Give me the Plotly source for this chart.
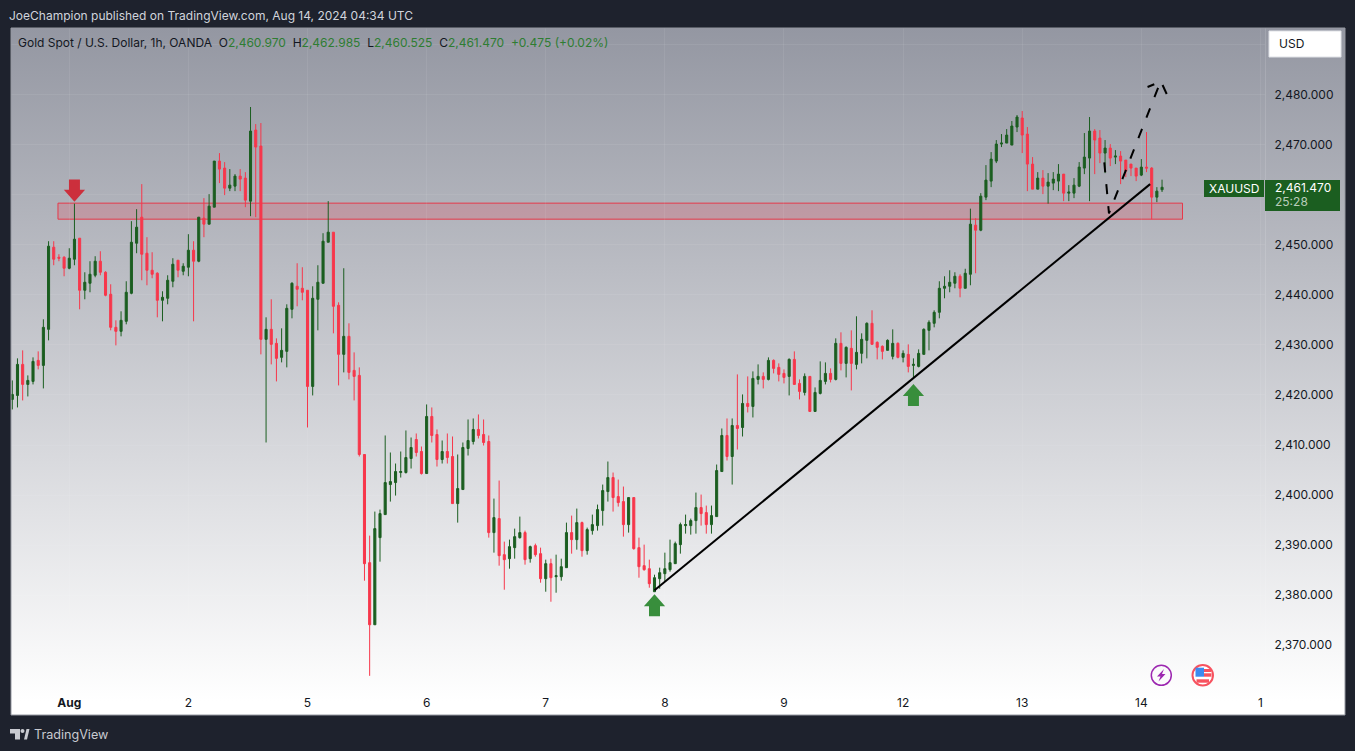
import base64
import plotly.graph_objects as go

# hourly XAUUSD bars
opens = [2419.1, 2419.9, 2426.1, 2422.1, 2422.7, 2426.9, 2425.9, 2433.1, 2449.5, 2447.5,
         2447.5, 2445.3, 2447.1, 2451.3, 2440.9, 2442.3, 2443.9, 2446.7, 2444.5, 2440.1,
         2433.5, 2432.7, 2434.7, 2440.3, 2450.3, 2455.5, 2448.3, 2444.9, 2444.3, 2438.9,
         2439.3, 2442.7, 2446.9, 2444.7, 2445.5, 2448.9, 2446.7, 2455.3, 2454.1, 2457.5,
         2466.7, 2465.3, 2461.3, 2461.7, 2463.7, 2463.3, 2458.7, 2472.9, 2469.7, 2431.1,
         2433.1, 2430.3, 2427.5, 2428.7, 2437.1, 2441.7, 2441.3, 2440.9, 2421.7, 2439.1,
         2442.3, 2450.5, 2452.5, 2437.9, 2428.1, 2431.7, 2424.9, 2423.9, 2408.1, 2386.5,
         2374.1, 2391.5, 2396.1, 2402.1, 2402.5, 2404.5, 2404.5, 2407.3, 2411.1, 2408.7,
         2404.3, 2415.7, 2412.1, 2407.1, 2408.7, 2407.7, 2398.3, 2401.1, 2409.3, 2410.7,
         2413.1, 2412.1, 2410.7, 2392.5, 2395.3, 2388.1, 2387.3, 2389.5, 2391.5, 2392.5,
         2387.3, 2389.9, 2388.3, 2383.3, 2386.3, 2383.7, 2383.7, 2385.5, 2392.5, 2391.1,
         2394.5, 2388.9, 2392.9, 2393.9, 2396.9, 2400.7, 2403.5, 2399.7, 2398.7, 2394.1,
         2399.5, 2389.5, 2385.9, 2385.3, 2380.7, 2383.3, 2384.3, 2385.1, 2386.3, 2390.1,
         2393.9, 2393.9, 2394.9, 2397.5, 2396.5, 2394.1, 2395.7, 2404.7, 2411.9, 2407.7,
         2413.9, 2413.5, 2418.3, 2417.7, 2423.1, 2423.7, 2423.1, 2426.9, 2425.5, 2424.3,
         2423.7, 2427.1, 2422.3, 2420.5, 2423.7, 2416.7, 2420.3, 2422.7, 2424.3, 2423.1,
         2430.3, 2426.3, 2429.3, 2426.1, 2428.3, 2430.9, 2434.3, 2430.5, 2429.7, 2428.9,
         2427.7, 2430.3, 2427.5, 2428.1, 2425.9, 2425.7, 2428.1, 2432.9, 2434.3, 2436.5,
         2441.3, 2441.7, 2442.3, 2443.7, 2441.3, 2444.1, 2453.9, 2452.9, 2459.5, 2462.7,
         2466.7, 2470.1, 2470.3, 2469.9, 2473.5, 2475.3, 2472.1, 2466.1, 2461.1, 2463.3,
         2461.7, 2462.3, 2462.7, 2464.1, 2460.3, 2460.3, 2461.7, 2465.3, 2467.3, 2472.7,
         2471.3, 2468.3, 2469.3, 2467.5, 2467.7, 2466.9, 2466.1, 2465.3, 2463.9, 2465.5,
         2465.3, 2459.5, 2460.97]
highs = [2422.9, 2427.3, 2428.9, 2423.9, 2427.5, 2428.7, 2435.1, 2450.7, 2450.7, 2448.1,
         2447.7, 2449.3, 2458.2, 2451.3, 2444.5, 2446.7, 2447.7, 2448.7, 2444.7, 2442.1,
         2434.9, 2436.7, 2442.7, 2454.7, 2457.1, 2462.1, 2451.5, 2448.5, 2444.5, 2440.7,
         2443.9, 2447.3, 2446.9, 2446.3, 2452.1, 2450.7, 2455.5, 2459.3, 2460.1, 2466.7,
         2468.3, 2466.5, 2465.1, 2464.1, 2465.1, 2464.5, 2477.5, 2474.1, 2474.3, 2435.5,
         2439.1, 2431.3, 2433.3, 2438.1, 2442.5, 2446.3, 2445.5, 2440.9, 2441.7, 2445.9,
         2452.3, 2458.7, 2452.5, 2438.5, 2445.3, 2434.3, 2428.5, 2425.5, 2408.1, 2391.9,
         2396.7, 2397.1, 2411.9, 2408.5, 2406.3, 2408.7, 2412.9, 2411.5, 2412.3, 2409.7,
         2418.1, 2417.5, 2413.1, 2410.9, 2412.3, 2411.7, 2408.1, 2410.5, 2415.1, 2415.3,
         2416.1, 2415.1, 2411.9, 2399.3, 2402.9, 2390.7, 2391.1, 2393.3, 2395.7, 2392.9,
         2389.9, 2390.3, 2389.5, 2387.1, 2387.3, 2388.1, 2387.3, 2394.5, 2395.9, 2397.3,
         2394.7, 2393.5, 2396.1, 2398.1, 2402.1, 2406.7, 2404.5, 2403.1, 2401.7, 2399.5,
         2399.5, 2391.5, 2390.1, 2387.1, 2384.1, 2385.5, 2388.5, 2391.1, 2390.7, 2394.5,
         2396.1, 2395.3, 2400.5, 2400.1, 2397.9, 2397.9, 2406.1, 2413.3, 2415.3, 2415.3,
         2424.1, 2420.1, 2423.7, 2424.7, 2426.1, 2424.5, 2427.5, 2427.1, 2426.3, 2425.1,
         2427.3, 2428.7, 2423.1, 2424.3, 2423.7, 2421.5, 2426.7, 2426.5, 2425.3, 2431.3,
         2432.5, 2429.7, 2432.9, 2435.7, 2432.3, 2434.5, 2436.9, 2430.7, 2429.9, 2431.1,
         2433.1, 2430.5, 2428.9, 2430.1, 2427.3, 2429.1, 2433.3, 2434.9, 2436.9, 2442.7,
         2443.7, 2444.9, 2444.5, 2444.1, 2445.2, 2457.2, 2455.3, 2460.3, 2465.9, 2468.5,
         2470.9, 2472.1, 2473.1, 2474.7, 2475.9, 2476.7, 2473.5, 2467.5, 2464.5, 2464.9,
         2464.3, 2464.5, 2466.1, 2464.1, 2461.9, 2463.3, 2466.5, 2472.3, 2475.5, 2473.1,
         2472.9, 2470.9, 2470.1, 2468.9, 2468.7, 2466.9, 2466.1, 2465.3, 2467.1, 2472.5,
         2465.5, 2461.5, 2462.985]
lows = [2417.1, 2417.5, 2418.9, 2419.7, 2422.1, 2425.1, 2421.3, 2430.9, 2445.9, 2446.7,
        2443.7, 2445.1, 2445.9, 2437.1, 2439.1, 2440.5, 2443.5, 2443.9, 2439.7, 2432.9,
        2429.9, 2431.7, 2434.1, 2440.1, 2448.3, 2442.9, 2441.9, 2443.3, 2435.5, 2434.7,
        2438.1, 2441.5, 2443.5, 2443.9, 2443.7, 2434.7, 2446.5, 2451.5, 2454.1, 2457.5,
        2462.3, 2459.9, 2460.7, 2460.7, 2460.7, 2457.5, 2455.7, 2455.5, 2428.1, 2410.5,
        2426.1, 2422.7, 2426.5, 2425.5, 2435.3, 2437.7, 2438.9, 2413.5, 2419.9, 2432.9,
        2442.3, 2450.5, 2432.3, 2421.9, 2424.5, 2423.1, 2418.9, 2407.7, 2382.9, 2363.9,
        2374.1, 2386.7, 2396.1, 2398.7, 2399.9, 2403.5, 2404.3, 2405.3, 2407.7, 2404.1,
        2404.3, 2410.5, 2405.7, 2406.3, 2406.3, 2398.3, 2394.5, 2401.1, 2407.9, 2410.1,
        2411.3, 2409.9, 2391.5, 2388.5, 2385.9, 2381.1, 2385.3, 2387.3, 2391.3, 2386.1,
        2386.5, 2387.7, 2382.5, 2380.7, 2378.7, 2380.5, 2382.9, 2385.5, 2388.3, 2389.1,
        2387.7, 2388.1, 2392.1, 2392.9, 2393.9, 2398.7, 2396.7, 2397.7, 2391.7, 2392.5,
        2389.1, 2383.5, 2384.9, 2381.5, 2380.7, 2381.3, 2382.7, 2384.7, 2386.3, 2388.3,
        2392.3, 2392.1, 2392.3, 2393.9, 2392.3, 2392.3, 2395.7, 2404.7, 2406.9, 2402.1,
        2409.1, 2411.7, 2416.5, 2415.5, 2422.1, 2421.3, 2422.9, 2424.3, 2422.7, 2422.3,
        2419.9, 2422.1, 2419.1, 2419.9, 2416.7, 2416.7, 2420.1, 2422.1, 2422.5, 2422.9,
        2424.9, 2423.5, 2420.9, 2425.1, 2426.3, 2427.3, 2430.1, 2427.1, 2427.1, 2428.9,
        2427.1, 2427.3, 2426.5, 2424.5, 2423.3, 2425.5, 2428.1, 2428.9, 2433.5, 2435.3,
        2439.3, 2440.5, 2441.3, 2439.5, 2441.3, 2441.9, 2444.3, 2452.7, 2458.9, 2461.5,
        2466.3, 2469.5, 2470.3, 2469.9, 2472.5, 2468.3, 2460.7, 2461.1, 2461.1, 2460.1,
        2458.2, 2460.9, 2460.7, 2458.7, 2458.7, 2459.3, 2461.5, 2464.1, 2458.7, 2464.1,
        2466.3, 2464.3, 2465.7, 2466.1, 2462.1, 2463.5, 2463.7, 2462.7, 2463.7, 2464.5,
        2455.1, 2458.5, 2460.525]
closes = [2420.1, 2426.1, 2422.1, 2422.9, 2426.7, 2425.9, 2433.5, 2449.7, 2447.1, 2447.3,
          2445.3, 2447.3, 2451.1, 2440.9, 2442.5, 2444.1, 2446.7, 2444.5, 2439.9, 2433.5,
          2432.7, 2434.9, 2440.5, 2450.5, 2453.5, 2448.1, 2444.9, 2444.1, 2438.9, 2439.5,
          2442.9, 2446.1, 2444.9, 2445.7, 2448.9, 2446.7, 2455.5, 2454.1, 2457.7, 2466.7,
          2465.1, 2461.3, 2461.9, 2463.7, 2463.1, 2458.9, 2472.7, 2469.5, 2431.1, 2433.1,
          2430.1, 2427.3, 2428.9, 2437.3, 2442.3, 2441.1, 2440.5, 2421.7, 2439.3, 2442.5,
          2450.7, 2452.5, 2437.7, 2428.1, 2431.7, 2424.5, 2423.7, 2408.1, 2386.3, 2374.1,
          2393.3, 2396.3, 2402.5, 2402.7, 2404.7, 2404.7, 2407.5, 2409.5, 2408.5, 2404.3,
          2415.7, 2411.9, 2407.1, 2408.7, 2407.5, 2398.3, 2401.3, 2409.5, 2410.9, 2413.1,
          2411.9, 2410.5, 2392.5, 2395.5, 2387.9, 2387.1, 2389.7, 2391.7, 2392.5, 2387.1,
          2389.7, 2388.1, 2383.3, 2386.3, 2383.5, 2383.9, 2385.7, 2392.5, 2391.1, 2394.5,
          2388.9, 2393.1, 2394.1, 2397.1, 2400.9, 2403.5, 2399.5, 2398.5, 2394.1, 2399.5,
          2389.3, 2385.7, 2385.1, 2382.3, 2383.5, 2384.5, 2385.3, 2386.5, 2390.3, 2394.1,
          2394.1, 2394.9, 2397.5, 2396.3, 2394.1, 2395.9, 2404.9, 2411.9, 2407.7, 2413.9,
          2413.3, 2418.3, 2417.7, 2423.3, 2423.7, 2423.1, 2426.9, 2425.3, 2424.1, 2423.5,
          2427.1, 2422.1, 2420.7, 2423.7, 2416.7, 2420.5, 2422.9, 2424.3, 2423.1, 2430.3,
          2426.3, 2429.5, 2426.3, 2428.5, 2431.1, 2434.3, 2430.1, 2429.5, 2428.7, 2430.9,
          2430.3, 2427.5, 2428.3, 2425.7, 2426.1, 2428.3, 2433.1, 2434.5, 2436.5, 2441.3,
          2441.7, 2442.5, 2443.7, 2441.3, 2444.3, 2454.1, 2452.9, 2459.7, 2462.9, 2467.1,
          2470.1, 2470.3, 2471.9, 2473.7, 2475.5, 2471.9, 2466.1, 2461.1, 2463.3, 2461.7,
          2462.5, 2463.1, 2464.1, 2460.3, 2460.5, 2461.9, 2465.5, 2467.5, 2472.7, 2470.9,
          2468.3, 2469.3, 2467.3, 2467.7, 2466.7, 2464.7, 2465.3, 2463.7, 2465.5, 2465.3,
          2459.5, 2460.7, 2461.47]

day_ticks = [11, 34, 57, 80, 103, 126, 149, 172, 195, 218, 241]
day_labels = ["<b>Aug</b>", "2", "5", "6", "7", "8", "9", "12", "13", "14", "1"]
price_ticks = [2370, 2380, 2390, 2400, 2410, 2420, 2430, 2440, 2450, 2460, 2470, 2480, 2490]
# 2,460 and 2,490 sit behind the price tag and the currency button
price_labels = ["2,370.000", "2,380.000", "2,390.000", "2,400.000", "2,410.000", "2,420.000", "2,430.000",
                "2,440.000", "2,450.000", "", "2,470.000", "2,480.000", ""]

# drawings on the chart
zone_bars = [8.82, 225.95]
zone_prices = [2455.1, 2458.3]
trend_bars = [124, 219.7]
trend_prices = [2381.0, 2462.1]
path_bars = [210.85, 211.75, 221.4, None, 219.2, 220.5, None, 222.1, 222.9]
path_prices = [2466.46, 2456.27, 2481.76, None, 2481.5, 2482.04, None, 2481.9, 2480.1]

GREEN = "#1b5e20"
RED = "#f7374b"
TEXT = "#131722"
FONT = "Inter, Roboto, sans-serif"


# panel pixels to paper fractions
def px(x):
    return (x - 11) / 1334


def py(y):
    return (715 - y) / 687


def box(x0, y0, x1, y1, fill, line=None, kind="rect", width=1, layer="above"):
    return dict(type=kind, xref="paper", yref="paper", x0=px(x0), x1=px(x1), y0=py(y0), y1=py(y1),
                fillcolor=fill, line=dict(color=line or "rgba(0,0,0,0)", width=width if line else 0), layer=layer)


def poly(points, fill):
    d = "M" + "L".join(f"{px(x):.5f},{py(y):.5f}" for x, y in points) + "Z"
    return dict(type="path", xref="paper", yref="paper", path=d, fillcolor=fill, line=dict(width=0), layer="above")


def note(x, y, text, size=12, color=TEXT, anchor="left"):
    return dict(xref="paper", yref="paper", x=px(x), y=py(y), text=text, showarrow=False, xanchor=anchor,
                yanchor="middle", font=dict(family=FONT, size=size, color=color), borderpad=0, borderwidth=0)


def arrow(bar, price, up, color):
    s = 1 if up else -1
    xs = [bar, bar + 2.05, bar + 1.06, bar + 1.06, bar - 1.06, bar - 1.06, bar - 2.05, bar]
    ys = [price, price - s * 2.4, price - s * 2.4, price - s * 4.4, price - s * 4.4, price - s * 2.4, price - s * 2.4, price]
    return go.Scatter(x=xs, y=ys, mode="lines", fill="toself", fillcolor=color, line=dict(width=0), hoverinfo="skip")


bars = list(range(len(closes)))

fig = go.Figure()
fig.add_trace(go.Candlestick(
    x=bars, open=opens, high=highs, low=lows, close=closes,
    increasing=dict(line=dict(color=GREEN, width=1), fillcolor=GREEN),
    decreasing=dict(line=dict(color=RED, width=1), fillcolor=RED),
    whiskerwidth=0,
))
fig.add_trace(go.Scatter(x=trend_bars, y=trend_prices, mode="lines", line=dict(color="#000000", width=2)))
fig.add_trace(go.Scatter(x=path_bars, y=path_prices, mode="lines",
                         line=dict(color="#000000", width=2, dash="10px,12px")))
fig.add_trace(arrow(12, 2458.6, False, "#cc2f3c"))
fig.add_trace(arrow(124, 2380.2, True, "#388e3c"))
fig.add_trace(arrow(174, 2422.2, True, "#388e3c"))

gradient = ('<svg xmlns="http://www.w3.org/2000/svg" width="1334" height="687" preserveAspectRatio="none">'
            '<defs><linearGradient id="g" x1="0" y1="0" x2="0" y2="1">'
            '<stop offset="0" stop-color="#9497a2"/><stop offset="0.98" stop-color="#ffffff"/>'
            '</linearGradient></defs><rect width="1334" height="687" fill="url(#g)"/></svg>')

shapes = [
    dict(type="rect", xref="x", yref="y", x0=zone_bars[0], x1=zone_bars[1], y0=zone_prices[0], y1=zone_prices[1],
         fillcolor="rgba(236,64,84,0.22)", line=dict(color="#e6394a", width=1), layer="below"),
    box(1269, 31, 1341, 57, "#ffffff", "#dfe1e6"),
    box(1204, 180, 1264, 197, GREEN),
    box(1265, 180, 1340, 211, GREEN),
    # tradingview logo
    poly([(10, 729), (20, 729), (20, 739.5), (15, 739.5), (15, 733.5), (10, 733.5)], "#c8cad0"),
    box(20.5, 729, 24.5, 733, "#c8cad0", kind="circle"),
    poly([(24, 739.5), (26.5, 729), (29.5, 729), (27, 739.5)], "#c8cad0"),
    # event icons
    box(1151.3, 665.3, 1171.3, 685.3, "rgba(255,255,255,0)", "#9c27b0", kind="circle", width=1.5),
    poly([(1164, 669), (1157, 676.5), (1160.5, 676.5), (1158.5, 681.5), (1165.5, 674), (1162, 674)], "#9c27b0"),
    box(1192.5, 665, 1213, 685.5, "#ffffff", "#f7525f", kind="circle", width=2),
    box(1195.5, 667.7, 1204, 676.7, "#3d8bf0"),
    box(1204, 669, 1211, 672, "#f7525f"),
    box(1204, 673.3, 1211.5, 676.7, "#f7525f"),
    box(1196.5, 679.3, 1209, 682.7, "#f7525f"),
    # panel border on top of everything
    dict(type="rect", xref="paper", yref="paper", x0=0, x1=1, y0=0, y1=1,
         line=dict(color="#9598a1", width=1), fillcolor="rgba(0,0,0,0)", layer="above"),
]

legend = ('Gold Spot / U.S. Dollar, 1h, OANDA&nbsp;&nbsp;O<span style="color:#2e7d32">2,460.970</span>'
          '&nbsp;&nbsp;H<span style="color:#2e7d32">2,462.985</span>'
          '&nbsp;&nbsp;L<span style="color:#2e7d32">2,460.525</span>'
          '&nbsp;&nbsp;C<span style="color:#2e7d32">2,461.470</span>'
          '&nbsp;&nbsp;<span style="color:#2e7d32">+0.475 (+0.02%)</span>')

annotations = [
    note(9, 15.5, "JoeChampion published on TradingView.com, Aug 14, 2024 04:34 UTC", 12, "#d1d4dc"),
    note(18, 42.5, legend, 12),
    note(1279, 44, "USD", 12),
    note(1234, 188.5, "XAUUSD", 12, "#ffffff", "center"),
    note(1275, 187.5, "2,461.470", 12, "#ffffff"),
    note(1275, 201, "25:28", 12, "rgba(255,255,255,0.7)"),
    note(34, 734, "TradingView", 12.6, "#c8cad0"),
]

fig.update_layout(
    width=1355, height=751, showlegend=False,
    margin=dict(l=11, r=10, t=28, b=36, pad=0),
    paper_bgcolor="#1e222d", plot_bgcolor="rgba(0,0,0,0)",
    font=dict(family=FONT, size=12, color=TEXT),
    boxgap=0.6, boxgroupgap=0,
    xaxis=dict(domain=[0, 1254 / 1334], range=[-0.251, 241.88], rangeslider=dict(visible=False),
               tickmode="array", tickvals=day_ticks, ticktext=day_labels,
               showgrid=True, gridcolor="rgba(255,255,255,0.07)", gridwidth=1, zeroline=False,
               ticks="outside", ticklen=2, tickcolor="rgba(0,0,0,0)", showline=False,
               tickfont=dict(family=FONT, size=12, color=TEXT)),
    yaxis=dict(domain=[25 / 687, 1], range=[2361.07, 2493.28], side="right",
               tickmode="array", tickvals=price_ticks, ticktext=price_labels,
               showgrid=True, gridcolor="rgba(255,255,255,0.07)", gridwidth=1, zeroline=False,
               ticks="outside", ticklen=6, tickcolor="rgba(0,0,0,0)",
               showline=True, linecolor="rgba(255,255,255,0.13)", linewidth=1,
               tickfont=dict(family=FONT, size=12, color=TEXT)),
    images=[dict(source="data:image/svg+xml;base64," + base64.b64encode(gradient.encode()).decode(),
                 xref="paper", yref="paper", x=0, y=1, sizex=1, sizey=1, xanchor="left", yanchor="top",
                 sizing="stretch", layer="below")],
    shapes=shapes,
    annotations=annotations,
)

fig.write_html("out.html", post_script="document.body.style.margin='0';", config={"displayModeBar": False})
